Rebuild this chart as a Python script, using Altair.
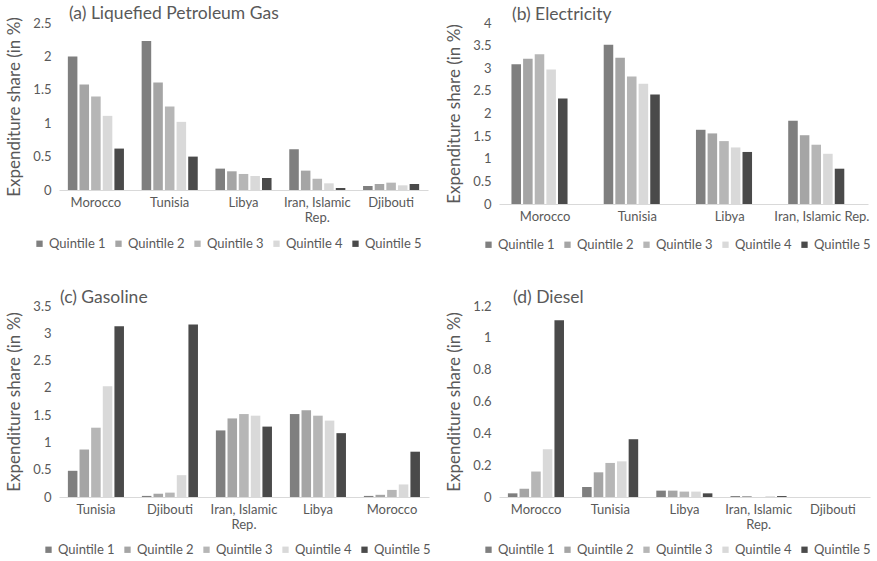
import altair as alt
import pandas as pd

FONT = "Lato"
TEXT = "#595959"

QUINTILES = ["Quintile 1", "Quintile 2", "Quintile 3", "Quintile 4", "Quintile 5"]
COLORS = ["#7f7f7f", "#a5a5a5", "#b6b6b6", "#d9d9d9", "#4a4a4a"]

# (a) Liquefied Petroleum Gas: one row of quintile shares per country
lpg_countries = ["Morocco", "Tunisia", "Libya", "Iran, Islamic Rep.", "Djibouti"]
lpg_shares = [
    [2.00, 1.58, 1.40, 1.11, 0.62],
    [2.23, 1.61, 1.25, 1.02, 0.50],
    [0.32, 0.28, 0.24, 0.21, 0.18],
    [0.61, 0.29, 0.17, 0.10, 0.03],
    [0.06, 0.09, 0.11, 0.07, 0.09],
]

# (b) Electricity
elec_countries = ["Morocco", "Tunisia", "Libya", "Iran, Islamic Rep."]
elec_shares = [
    [3.09, 3.21, 3.31, 2.97, 2.33],
    [3.52, 3.23, 2.82, 2.66, 2.42],
    [1.64, 1.56, 1.39, 1.25, 1.15],
    [1.84, 1.52, 1.31, 1.11, 0.78],
]

# (c) Gasoline
gas_countries = ["Tunisia", "Djibouti", "Iran, Islamic Rep.", "Libya", "Morocco"]
gas_shares = [
    [0.48, 0.87, 1.27, 2.03, 3.13],
    [0.02, 0.06, 0.08, 0.40, 3.16],
    [1.22, 1.44, 1.52, 1.49, 1.29],
    [1.52, 1.59, 1.49, 1.40, 1.17],
    [0.02, 0.04, 0.13, 0.23, 0.83],
]

# (d) Diesel
diesel_countries = ["Morocco", "Tunisia", "Libya", "Iran, Islamic Rep.", "Djibouti"]
diesel_shares = [
    [0.023, 0.052, 0.16, 0.30, 1.11],
    [0.063, 0.155, 0.214, 0.224, 0.363],
    [0.04, 0.04, 0.034, 0.034, 0.023],
    [0.006, 0.006, 0.0, 0.005, 0.006],
    [0.0, 0.0, 0.0, 0.0, 0.0],
]

WRAP = "datum.label == 'Iran, Islamic Rep.' ? ['Iran, Islamic', 'Rep.'] : datum.label"


def long_table(countries, shares):
    rows = []
    for country, vals in zip(countries, shares):
        for q, v in zip(QUINTILES, vals):
            rows.append({"country": country, "quintile": q, "share": v})
    return pd.DataFrame(rows)


def panel(title, countries, shares, ymax, ystep, width, height, wrap,
          pad_inner, title_dx, legend_x, legend_y):
    df = long_table(countries, shares)
    n = int(round(ymax / ystep))
    ticks = [round(i * ystep, 2) for i in range(n + 1)]
    x_axis = dict(
        labelAngle=0, ticks=False, domainColor="#d9d9d9", domainWidth=1,
        labelColor=TEXT, labelFontSize=13, labelFont=FONT, labelPadding=6,
        labelLineHeight=15, title=None, labelLimit=200,
    )
    if wrap:
        x_axis["labelExpr"] = WRAP
    return (
        alt.Chart(df)
        .mark_bar()
        .encode(
            x=alt.X(
                "country:N", sort=countries,
                scale=alt.Scale(paddingInner=pad_inner, paddingOuter=pad_inner / 2),
                axis=alt.Axis(**x_axis),
            ),
            xOffset=alt.XOffset("quintile:N", sort=QUINTILES,
                                scale=alt.Scale(paddingInner=0.18)),
            y=alt.Y(
                "share:Q",
                scale=alt.Scale(domain=[0, ymax], nice=False),
                axis=alt.Axis(
                    values=ticks, format="~g", domain=False, ticks=False, grid=False,
                    labelColor=TEXT, labelFontSize=13, labelFont=FONT, labelPadding=8,
                    title="Expenditure share (in %)", titleFontSize=17,
                    titleFontWeight="normal", titleColor=TEXT, titleFont=FONT,
                    titlePadding=9,
                ),
            ),
            color=alt.Color(
                "quintile:N", sort=QUINTILES,
                scale=alt.Scale(domain=QUINTILES, range=COLORS),
                legend=alt.Legend(
                    title=None, orient="none", direction="horizontal",
                    legendX=legend_x, legendY=legend_y,
                    symbolType="square", symbolSize=40, symbolStrokeWidth=0,
                    labelFontSize=13, labelFont=FONT, labelColor=TEXT,
                    labelOffset=3, columnPadding=6, padding=0,
                ),
            ),
        )
        .properties(
            width=width, height=height,
            title=alt.TitleParams(
                title, anchor="start", frame="group", dx=title_dx, offset=-6,
                fontSize=17.5, fontWeight="normal", color=TEXT, font=FONT,
            ),
        )
    )


a = panel("(a) Liquefied Petroleum Gas", lpg_countries, lpg_shares, 2.5, 0.5,
          369, 167, True, 0.24, 10, -26, 214)
b = panel("(b) Electricity", elec_countries, elec_shares, 4, 0.5,
          369, 181, False, 0.27, 13, -17, 215)
c = panel("(c) Gasoline", gas_countries, gas_shares, 3.5, 0.5,
          370, 191, True, 0.24, 1, -17, 237)
d = panel("(d) Diesel", diesel_countries, diesel_shares, 1.2, 0.2,
          371, 191, True, 0.24, 14, -17, 237)

top = alt.hconcat(a, b, spacing=17).resolve_legend(color="independent")
bottom = alt.hconcat(c, d, spacing=14).resolve_legend(color="independent")

chart = (
    alt.vconcat(top, bottom, spacing=36)
    .resolve_legend(color="independent")
    .properties(padding={"left": 5, "top": 5, "right": 0, "bottom": 0}, background="white")
    .configure_view(stroke=None)
)

chart.save("out.html", embed_options={"renderer": "svg", "actions": False})
